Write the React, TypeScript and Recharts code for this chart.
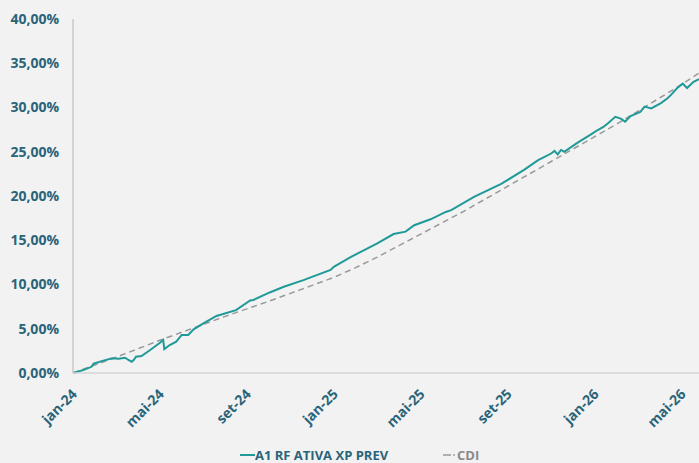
import { LineChart, Line, XAxis, YAxis } from "recharts";

// months since jan-24
const fundMonths = [
  0, 0.5, 0.85, 0.95, 1.4, 1.8, 2.1, 2.4, 2.55, 2.7, 2.8, 2.9, 3.15, 3.55, 4.0, 4.15, 4.2, 4.45,
  4.75, 5.0, 5.3, 5.55, 6.0, 6.6, 7.5, 8.15, 8.3, 9.05, 9.7, 10.6, 11.85, 12.0, 12.75, 14.0,
  14.75, 15.3, 15.7, 16.45, 17.15, 17.4, 18.45, 19.7, 20.75, 21.4, 22.0, 22.15, 22.3, 22.45,
  22.6, 23.2, 23.85, 24.1, 24.4, 24.6, 24.95, 25.2, 25.4, 25.65, 26.1, 26.3, 26.6, 27.05,
  27.35, 27.5, 27.8, 28.05, 28.25, 28.55, 28.8,
];
const fundValues = [
  0, 0.35, 0.7, 1.05, 1.4, 1.66, 1.6, 1.73, 1.47, 1.28, 1.5, 1.84, 1.92, 2.6, 3.42, 3.73, 2.7,
  3.16, 3.54, 4.3, 4.3, 4.94, 5.6, 6.44, 7.1, 8.2, 8.25, 9.1, 9.75, 10.5, 11.64, 12.0, 13.07,
  14.65, 15.7, 15.97, 16.7, 17.37, 18.2, 18.4, 19.9, 21.36, 22.95, 24.05, 24.8, 25.1, 24.7,
  25.2, 25.0, 26.0, 27.0, 27.4, 27.8, 28.2, 28.95, 28.75, 28.4, 29.04, 29.5, 30.1, 29.9, 30.5,
  31.04, 31.4, 32.2, 32.7, 32.2, 32.9, 33.2,
];

const cdiMonths = [
  0, 1, 2, 3, 4, 5, 6, 7, 8, 9, 10, 11, 12, 13, 14, 15, 16, 17, 18, 19, 20, 21, 22, 23, 24, 25,
  26, 27, 28, 28.8,
];
const cdiValues = [
  0, 0.9, 1.8, 2.75, 3.7, 4.6, 5.5, 6.4, 7.25, 8.1, 9.0, 9.9, 10.8, 11.9, 13.1, 14.4, 15.7,
  17.0, 18.3, 19.7, 21.1, 22.5, 23.9, 25.3, 26.7, 28.1, 29.6, 31.1, 32.6, 33.9,
];

const tickMonths = [0, 4, 8, 12, 16, 20, 24, 28];
const tickLabels = ["jan-24", "mai-24", "set-24", "jan-25", "mai-25", "set-25", "jan-26", "mai-26"];
const yTicks = [0, 5, 10, 15, 20, 25, 30, 35, 40];

const fundData = fundMonths.map((m, i) => ({ m, fund: fundValues[i] }));
const cdiData = cdiMonths.map((m, i) => ({ m, cdi: cdiValues[i] }));

const FONT = "'Open Sans', sans-serif";
const LABEL = "#2a6479";
const TEAL = "#1f9a98";

const fmtPct = (v: number) => v.toFixed(2).replace(".", ",") + "%";

const XTick = ({ x, y, payload }: any) => {
  const idx = tickMonths.indexOf(payload.value);
  const ax = x + 5;
  const ay = y + 22;
  return (
    <text
      x={ax}
      y={ay}
      textAnchor="end"
      transform={`rotate(-45, ${ax}, ${ay})`}
      fill={LABEL}
      fontFamily={FONT}
      fontWeight={700}
      fontSize={14}
    >
      {tickLabels[idx]}
    </text>
  );
};

const LegendRow = () => (
  <svg width={699} height={18} style={{ position: "absolute", left: 0, top: 445 }}>
    <line x1={240} x2={255} y1={10} y2={10} stroke={TEAL} strokeWidth={2} />
    <text x={255} y={15} fill={LABEL} fontFamily={FONT} fontWeight={700} fontSize={13}>
      A1 RF ATIVA XP PREV
    </text>
    <line x1={443} x2={451} y1={10} y2={10} stroke="#999" strokeWidth={1.5} />
    <circle cx={454} cy={10} r={0.9} fill="#999" />
    <text x={457} y={15} fill="#8a8a8a" fontFamily={FONT} fontWeight={700} fontSize={13}>
      CDI
    </text>
  </svg>
);

export default function App() {
  return (
    <div style={{ position: "fixed", left: 0, top: 0, width: 699, height: 463, background: "#f2f2f2", overflow: "hidden" }}>
      <LineChart width={699} height={463} margin={{ top: 19, right: 0, left: 0, bottom: 20 }}>
        <XAxis
          dataKey="m"
          type="number"
          domain={[0, 28.8]}
          ticks={tickMonths}
          allowDuplicatedCategory={false}
          tick={<XTick />}
          tickLine={false}
          tickSize={0}
          tickMargin={0}
          height={70}
          stroke="#d6d6d6"
          strokeWidth={1.5}
        />
        <YAxis
          type="number"
          domain={[0, 40]}
          ticks={yTicks}
          tickFormatter={fmtPct}
          width={73}
          tickLine={false}
          tickSize={0}
          tickMargin={14}
          stroke="#c8c8c8"
          strokeWidth={1.5}
          tick={{ fill: LABEL, fontFamily: FONT, fontWeight: 700, fontSize: 14 }}
        />
        <Line
          data={cdiData}
          dataKey="cdi"
          type="linear"
          stroke="#999999"
          strokeWidth={1.5}
          strokeDasharray="6 4"
          dot={false}
          isAnimationActive={false}
        />
        <Line
          data={fundData}
          dataKey="fund"
          type="linear"
          stroke={TEAL}
          strokeWidth={2}
          dot={false}
          isAnimationActive={false}
        />
      </LineChart>
      <LegendRow />
    </div>
  );
}
